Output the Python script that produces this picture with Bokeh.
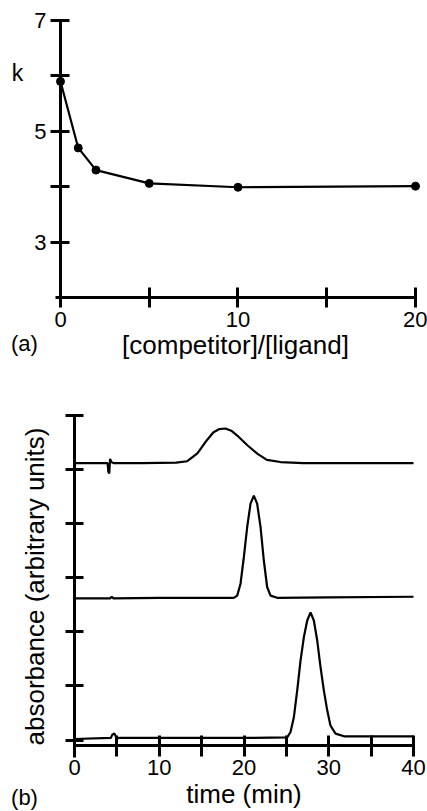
from bokeh.plotting import figure
from bokeh.layouts import column
from bokeh.models import FixedTicker, Label
from bokeh.embed import file_html
from bokeh.resources import INLINE

FONT = "Liberation Sans"

# ---------- panel (a) data ----------
ratio = [0, 1, 2, 5, 10, 20]
k_values = [5.90, 4.70, 4.30, 4.06, 3.99, 4.01]
a_x_ticks = [0, 5, 10, 15, 20]
a_x_labels = {5: "", 15: ""}
a_y_ticks = [3, 4, 5, 6, 7]
a_y_labels = {4: "", 6: ""}

# ---------- panel (b) data ----------
t1 = [0, 3.9, 4.0, 4.1, 4.2, 4.35, 4.6, 8, 12, 13.3, 14.5, 15.45, 16.4, 17.1, 17.8, 18.5,
      19.2, 20.4, 21.6, 22.7, 24.3, 27.0, 30, 35, 40]
a1 = [5.12, 5.12, 4.96, 4.93, 5.20, 5.14, 5.12, 5.12, 5.13, 5.155, 5.30, 5.51, 5.69, 5.75,
      5.76, 5.72, 5.63, 5.45, 5.29, 5.18, 5.14, 5.12, 5.12, 5.12, 5.12]

t2 = [0, 4.2, 4.4, 4.6, 10, 18.8, 19.2, 19.59, 19.98, 20.38, 20.77, 21.16, 21.55, 21.95,
      22.34, 22.73, 23.13, 23.92, 30, 40]
a2 = [2.62, 2.62, 2.65, 2.62, 2.63, 2.63, 2.67, 2.89, 3.38, 3.94, 4.37, 4.52, 4.37, 3.94,
      3.32, 2.83, 2.67, 2.63, 2.64, 2.65]

t3 = [0, 4.3, 4.45, 4.7, 4.9, 5.0, 5.2, 10, 20, 25.1, 25.49, 25.88, 26.28, 26.67, 27.06,
      27.46, 27.85, 28.24, 28.64, 29.03, 29.42, 29.82, 30.2, 30.8, 31.8, 33.7, 40]
a3 = [0.02, 0.04, 0.10, 0.12, 0.06, 0.02, 0.04, 0.04, 0.04, 0.05, 0.15, 0.42, 0.92, 1.47,
      1.90, 2.21, 2.36, 2.21, 1.84, 1.35, 0.92, 0.55, 0.27, 0.12, 0.07, 0.07, 0.07]

b_x_ticks = [0, 5, 10, 15, 20, 25, 30, 35, 40]
b_x_labels = {5: "", 15: "", 25: "", 35: ""}
b_y_ticks = [0, 1, 2, 3, 4, 5, 6]
b_y_labels = {0: "", 1: "", 2: "", 3: "", 4: "", 5: "", 6: ""}


def style(p):
    p.outline_line_color = None
    p.xgrid.visible = False
    p.ygrid.visible = False
    p.background_fill_color = "white"
    p.border_fill_color = "white"
    for ax in (p.xaxis[0], p.yaxis[0]):
        ax.axis_line_width = 3
        ax.axis_line_color = "black"
        ax.major_tick_line_width = 3
        ax.major_tick_line_color = "black"
        ax.minor_tick_line_color = None
        ax.major_label_text_font = FONT
        ax.major_label_text_font_size = "22px"
        ax.major_label_text_color = "black"
        ax.axis_label_text_font = FONT
        ax.axis_label_text_font_size = "26px"
        ax.axis_label_text_font_style = "normal"
        ax.axis_label_text_color = "black"


H1 = 362
H2 = 811 - H1

# ---------- top figure (frame covers the whole canvas; axes pinned) ----------
p1 = figure(width=427, height=H1, x_range=(-3.38, 20.676), y_range=(0.827, 7.361),
            output_backend="svg", toolbar_location=None,
            min_border_left=0, min_border_right=0, min_border_top=0, min_border_bottom=0)
style(p1)
p1.xaxis.fixed_location = 2
p1.yaxis.fixed_location = 0
p1.xaxis.bounds = (-0.3, 20)
p1.yaxis.bounds = (1.9, 7)
p1.xaxis.ticker = FixedTicker(ticks=a_x_ticks)
p1.xaxis.major_label_overrides = a_x_labels
p1.yaxis.ticker = FixedTicker(ticks=a_y_ticks)
p1.yaxis.major_label_overrides = a_y_labels
p1.xaxis.major_tick_out = 10
p1.xaxis.major_tick_in = 10
p1.yaxis.major_tick_out = 10
p1.yaxis.major_tick_in = 9
p1.xaxis.major_label_standoff = 4
p1.yaxis.major_label_standoff = 4
p1.xaxis.axis_label = "[competitor]/[ligand]"
p1.xaxis.axis_label_standoff = 0

p1.line(ratio, k_values, line_color="black", line_width=2.2)
p1.scatter(ratio, k_values, size=8, fill_color="black", line_color="black")

p1.add_layout(Label(x=-2.42, y=6.05, text="k", text_font=FONT, text_font_size="23px",
                    text_align="center", text_baseline="middle", text_color="black"))
p1.add_layout(Label(x=-2.03, y=1.17, text="(a)", text_font=FONT, text_font_size="22px",
                    text_align="center", text_baseline="middle", text_color="black"))

# ---------- bottom figure ----------
p2 = figure(width=427, height=H2, x_range=(-8.732, 41.652), y_range=(-1.32, 6.98),
            output_backend="svg", toolbar_location=None,
            min_border_left=0, min_border_right=0, min_border_top=0, min_border_bottom=0)
style(p2)
p2.xaxis.fixed_location = -0.1
p2.yaxis.fixed_location = 0
p2.xaxis.bounds = (0, 40)
p2.yaxis.bounds = (-0.32, 6)
p2.xaxis.ticker = FixedTicker(ticks=b_x_ticks)
p2.xaxis.major_label_overrides = b_x_labels
p2.yaxis.ticker = FixedTicker(ticks=b_y_ticks)
p2.yaxis.major_label_overrides = b_y_labels
p2.xaxis.major_tick_out = 11
p2.xaxis.major_tick_in = 10
p2.yaxis.major_tick_out = 9
p2.yaxis.major_tick_in = 9
p2.xaxis.major_label_standoff = 3
p2.yaxis.major_label_standoff = 0
p2.xaxis.axis_label = "time (min)"
p2.xaxis.axis_label_standoff = 1
p2.yaxis.axis_label = "absorbance (arbitrary units)"
p2.yaxis.axis_label_standoff = 16

for tt, aa in ((t1, a1), (t2, a2), (t3, a3)):
    p2.line(tt, aa, line_color="black", line_width=2.2)

p2.add_layout(Label(x=-5.9, y=-1.06, text="(b)", text_font=FONT, text_font_size="22px",
                    text_align="center", text_baseline="middle", text_color="black"))

layout = column(p1, p2, spacing=0)
open("out.html", "w").write(file_html(layout, INLINE))
